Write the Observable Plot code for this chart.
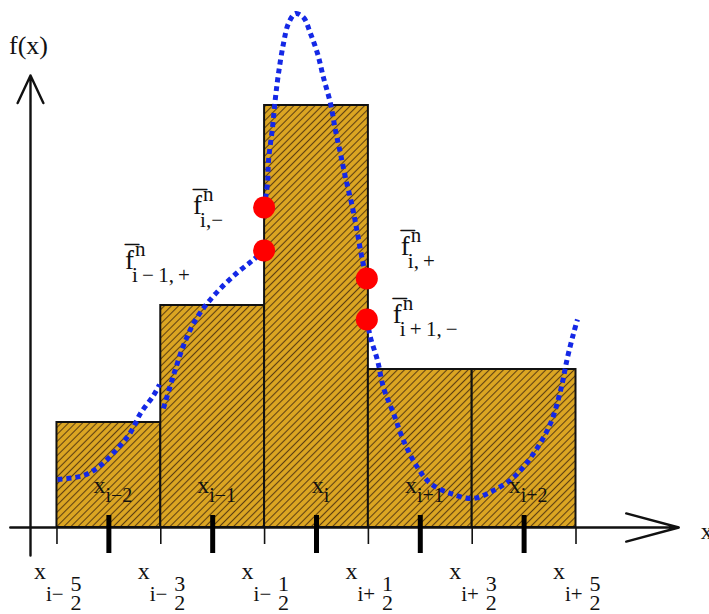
<!DOCTYPE html>
<html><head><meta charset="utf-8">
<script src="https://cdn.jsdelivr.net/npm/d3@7"></script>
<script src="https://cdn.jsdelivr.net/npm/@observablehq/plot@0.6"></script>
<style>body{margin:0;background:#fff} #chart svg{display:block}</style>
</head><body><div id="chart"></div>
<script>
// ---- data ----
const edges = [-2.5, -1.5, -0.5, 0.5, 1.5, 2.5];
const centers = [-2, -1, 0, 1, 2];
const cellAverages = [1.05, 2.22, 4.22, 1.58, 1.58];
const cellSubscripts = ["i−2", "i−1", "i", "i+1", "i+2"];
const edgeSigns = ["−", "−", "−", "+", "+", "+"];
const edgeNumerators = ["5", "3", "1", "1", "3", "5"];
const edgeDenominator = "2";

const curveAX = [-2.495, -2.245, -2.081, -1.917, -1.792, -1.696, -1.570, -1.513];
const curveAY = [0.48, 0.52, 0.62, 0.79, 0.95, 1.14, 1.32, 1.43];
const curveBX = [-1.474, -1.378, -1.281, -1.185, -1.069, -0.925, -0.761, -0.617, -0.505];
const curveBY = [1.19, 1.52, 1.82, 2.04, 2.22, 2.39, 2.55, 2.67, 2.77];
const curveCX = [-0.505, -0.472, -0.462, -0.424, -0.395, -0.366, -0.318, -0.270, -0.202, -0.125, -0.058, 0.010, 0.067, 0.135, 0.183, 0.231, 0.279, 0.347, 0.395, 0.443, 0.485];
const curveCY = [3.20, 3.44, 3.67, 4.00, 4.30, 4.54, 4.84, 5.04, 5.14, 5.10, 4.94, 4.74, 4.50, 4.24, 3.97, 3.74, 3.50, 3.20, 2.94, 2.67, 2.49];
const curveDX = [0.485, 0.520, 0.588, 0.645, 0.742, 0.838, 0.973, 1.098, 1.291, 1.503, 1.705, 1.898, 2.091, 2.254, 2.351, 2.418, 2.476, 2.514];
const curveDY = [2.08, 1.90, 1.67, 1.40, 1.14, 0.87, 0.60, 0.44, 0.34, 0.29, 0.37, 0.50, 0.74, 1.04, 1.37, 1.70, 1.94, 2.08];

const interfaceX = [-0.505, -0.505, 0.485, 0.485];
const interfaceY = [3.20, 2.77, 2.49, 2.08];
const interfaceSubs = ["i,−", "i\u2009−\u20091,\u2009+", "i,\u2009+", "i\u2009+\u20091,\u2009−"];

const xAxisRange = [-2.95, 3.49];
const yAxisRange = [-0.28, 4.52];
const yAxisX = -2.755;

// ---- tables ----
const cells = centers.map((c, i) => ({x1: edges[i], x2: edges[i + 1], c, h: cellAverages[i], sub: cellSubscripts[i]}));
const edgeTable = edges.map((e, i) => ({x: e, sign: edgeSigns[i], num: edgeNumerators[i]}));
const curve = [
  ...curveAX.map((x, i) => ({x, y: curveAY[i], piece: "A"})),
  ...curveBX.map((x, i) => ({x, y: curveBY[i], piece: "B"})),
  ...curveCX.map((x, i) => ({x, y: curveCY[i], piece: "C"})),
  ...curveDX.map((x, i) => ({x, y: curveDY[i], piece: "D"}))
];
const labelOffsets = [[-71, 6], [-139, 18], [34, -24], [26, 3]];
const interfaces = interfaceX.map((x, i) => ({x, y: interfaceY[i], sub: interfaceSubs[i], ox: labelOffsets[i][0], oy: labelOffsets[i][1]}));

const FONT = "Liberation Serif";
const ctx = document.createElement("canvas").getContext("2d");
function tw(s, size) { ctx.font = `${size}px "${FONT}"`; return ctx.measureText(s).width; }

const marks = [];
// bars
marks.push(Plot.rect(cells, {x1: "x1", x2: "x2", y1: 0, y2: "h", fill: "url(#hatch)", stroke: "#111", strokeWidth: 2}));
// axes
marks.push(Plot.arrow([{x1: xAxisRange[0], x2: xAxisRange[1], y: 0}], {x1: "x1", x2: "x2", y1: "y", y2: "y", stroke: "#111", strokeWidth: 2.4, headLength: 34, headAngle: 30}));
marks.push(Plot.arrow([{x: yAxisX, y1: yAxisRange[0], y2: yAxisRange[1]}], {x1: "x", x2: "x", y1: "y1", y2: "y2", stroke: "#111", strokeWidth: 2.4, headLength: 19, headAngle: 50}));
// ticks
marks.push(Plot.ruleX(edges, {x: d => d, y1: 0, y2: -0.17, stroke: "#111", strokeWidth: 1.6}));
marks.push(Plot.ruleX(centers, {x: d => d, y1: 0.12, y2: -0.26, stroke: "#000", strokeWidth: 5}));
// curve
marks.push(Plot.line(curve, {x: "x", y: "y", z: "piece", curve: "catmull-rom", stroke: "#1428e6", strokeWidth: 5, strokeDasharray: "5,4", strokeLinecap: "butt"}));
// interface values
marks.push(Plot.dot(interfaces, {x: "x", y: "y", r: 11, fill: "#ff0000", stroke: null}));

const T = {fontFamily: FONT, fill: "#111", lineAnchor: "bottom", textAnchor: "start"};
// cell center labels
const XS = 24, SS = 20;
for (const c of cells) {
  const total = tw("x", XS) + tw(c.sub, SS);
  const start = 4 - total / 2;
  marks.push(Plot.text([c], {...T, x: "c", y: () => 0, text: () => "x", fontSize: XS, dx: start, dy: -35}));
  marks.push(Plot.text([c], {...T, x: "c", y: () => 0, text: "sub", fontSize: SS, dx: start + tw("x", XS), dy: -26}));
}
// edge labels
marks.push(Plot.text(edgeTable, {...T, x: "x", y: () => 0, text: () => "x", fontSize: 24, dx: -23, dy: 51}));
marks.push(Plot.text(edgeTable, {...T, x: "x", y: () => 0, text: d => "i" + d.sign, fontSize: 21, dx: -11, dy: 73}));
marks.push(Plot.text(edgeTable, {...T, x: "x", y: () => 0, text: "num", textAnchor: "middle", fontSize: 22, dx: 19, dy: 63}));
marks.push(Plot.text(edgeTable, {...T, x: "x", y: () => 0, text: () => edgeDenominator, textAnchor: "middle", fontSize: 22, dx: 19, dy: 82}));
// interface labels
for (const p of interfaces) {
  marks.push(Plot.text([p], {...T, x: "x", y: "y", text: () => "f", fontSize: 27, dx: p.ox, dy: p.oy}));
  marks.push(Plot.text([p], {...T, x: "x", y: "y", text: () => "—", fontSize: 14, stroke: "#111", strokeWidth: 0.8, dx: p.ox, dy: p.oy - 21}));
  marks.push(Plot.text([p], {...T, x: "x", y: "y", text: () => "n", fontSize: 21, dx: p.ox + 10, dy: p.oy - 13}));
  marks.push(Plot.text([p], {...T, x: "x", y: "y", text: "sub", fontSize: 21, dx: p.ox + 7, dy: p.oy + 13}));
}
// axis titles
marks.push(Plot.text([0], {...T, x: () => yAxisX, y: () => yAxisRange[1], text: () => "f(x)", textAnchor: "middle", fontSize: 26, dx: -2, dy: -22}));
marks.push(Plot.text([0], {...T, x: () => xAxisRange[1], y: () => 0, text: () => "x", fontSize: 24, dx: 22, dy: 11}));

const chart = Plot.plot({
  width: 709, height: 614,
  marginTop: 0, marginBottom: 87, marginLeft: 0, marginRight: 0,
  x: {domain: [-3.044, 3.786], axis: null},
  y: {domain: [0, 5.27], axis: null},
  style: {background: "#fff", overflow: "visible"},
  marks
});
const ns = "http://www.w3.org/2000/svg";
const defs = document.createElementNS(ns, "defs");
defs.innerHTML = `<pattern id="hatch" patternUnits="userSpaceOnUse" width="5" height="5" patternTransform="rotate(45)">
<rect width="5" height="5" fill="#dca622"/><line x1="2.5" y1="0" x2="2.5" y2="5" stroke="#5e4012" stroke-width="1.1"/></pattern>`;
chart.insertBefore(defs, chart.firstChild);
document.getElementById("chart").appendChild(chart);
</script></body></html>
